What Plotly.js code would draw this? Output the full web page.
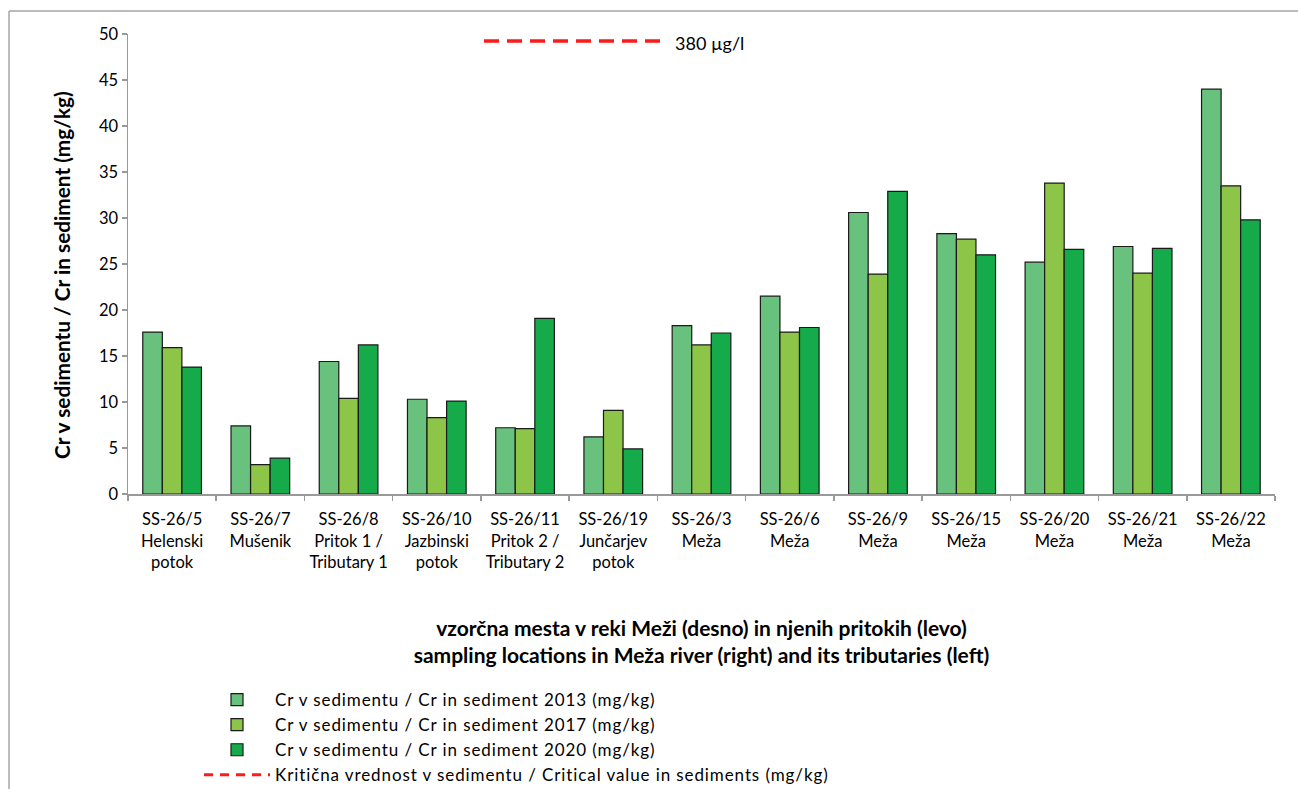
<!DOCTYPE html>
<html>
<head>
<meta charset="utf-8">
<script src="https://cdn.plot.ly/plotly-3.0.1.min.js"></script>
<style>html,body{margin:0;padding:0;background:#fff;overflow:hidden;}#chart{width:1298px;height:789px;}
text.legendtext{letter-spacing:0.9px;}</style>
</head>
<body>
<div id="chart"></div>
<script>
const categories = [
  "SS-26/5<br>Helenski<br>potok",
  "SS-26/7<br>Mušenik",
  "SS-26/8<br>Pritok 1 /<br>Tributary 1",
  "SS-26/10<br>Jazbinski<br>potok",
  "SS-26/11<br>Pritok 2 /<br>Tributary 2",
  "SS-26/19<br>Junčarjev<br>potok",
  "SS-26/3<br>Meža",
  "SS-26/6<br>Meža",
  "SS-26/9<br>Meža",
  "SS-26/15<br>Meža",
  "SS-26/20<br>Meža",
  "SS-26/21<br>Meža",
  "SS-26/22<br>Meža"
];
const cr2013 = [17.6, 7.4, 14.4, 10.3, 7.2, 6.2, 18.3, 21.5, 30.6, 28.3, 25.2, 26.9, 44.0];
const cr2017 = [15.9, 3.2, 10.4, 8.3, 7.1, 9.1, 16.2, 17.6, 23.9, 27.7, 33.8, 24.0, 33.5];
const cr2020 = [13.8, 3.9, 16.2, 10.1, 19.1, 4.9, 17.5, 18.1, 32.9, 26.0, 26.6, 26.7, 29.8];
const criticalValue = 380;
const seriesNames = [
  "Cr v sedimentu / Cr in sediment 2013 (mg/kg)",
  "Cr v sedimentu / Cr in sediment 2017 (mg/kg)",
  "Cr v sedimentu / Cr in sediment 2020 (mg/kg)",
  "Kritična vrednost v sedimentu / Critical value in sediments (mg/kg)"
];
const criticalLabel = "380 µg/l";
const xTitle = "<b>vzorčna mesta v reki Meži (desno) in njenih pritokih (levo)<br>sampling locations in Meža river (right) and its tributaries (left)</b>";
const yTitle = "<b>Cr v sedimentu / Cr in sediment (mg/kg)</b>";

const FONT = "Lato, 'Open Sans', sans-serif";
const colors = ["#68C17C", "#8DC548", "#15AB4A"];
const barLine = {color: "#1a1a1a", width: 1.2};

const traces = [cr2013, cr2017, cr2020].map((vals, i) => ({
  type: "bar",
  x: categories,
  y: vals,
  name: seriesNames[i],
  marker: {color: colors[i], line: barLine}
}));
traces.push({
  type: "scatter",
  mode: "lines",
  x: categories,
  y: categories.map(() => criticalValue),
  name: seriesNames[3],
  line: {color: "#FF1A1A", width: 3, dash: "9px,7px"}
});

const L = 128, R = 1275, T = 34, B = 494, W = 1298, H = 789;
const px = v => (v - L) / (R - L);
const py = v => (B - v) / (B - T);

const layout = {
  width: W, height: H,
  margin: {l: L, r: W - R, t: T, b: H - B, autoexpand: false},
  paper_bgcolor: "#fff", plot_bgcolor: "#fff",
  font: {family: FONT, size: 16, color: "#000"},
  barmode: "group",
  bargap: 0.335,
  bargroupgap: 0,
  showlegend: true,
  legend: {
    x: px(199), y: py(682), xanchor: "left", yanchor: "top",
    font: {family: FONT, size: 17, color: "#000"},
    bgcolor: "rgba(0,0,0,0)", tracegroupgap: 0, itemwidth: 66,
    traceorder: "normal"
  },
  xaxis: {
    type: "category",
    showline: true, linecolor: "#999", linewidth: 1.5,
    ticks: "outside", tickson: "boundaries", ticklen: 5, tickcolor: "#999", tickwidth: 1.5,
    tickfont: {family: FONT, size: 16.5, color: "#000"},
    ticklabelstandoff: 10,
    tickangle: 0,
    showgrid: false, zeroline: false, automargin: false,
    title: {text: xTitle, font: {family: FONT, size: 21, color: "#000"}, standoff: 50}
  },
  yaxis: {
    range: [0, 50], dtick: 5,
    showline: true, linecolor: "#999", linewidth: 1.5,
    ticks: "outside", ticklen: 5, tickcolor: "#999", tickwidth: 1.5,
    tickfont: {family: FONT, size: 16.5, color: "#000"},
    showgrid: false, zeroline: false, automargin: false
  },
  shapes: [
    {type: "line", xref: "paper", yref: "paper", x0: px(9), x1: px(1305), y0: py(11), y1: py(11), line: {color: "#a6a6a6", width: 1.5}},
    {type: "line", xref: "paper", yref: "paper", x0: px(9), x1: px(9), y0: py(11), y1: py(800), line: {color: "#a6a6a6", width: 1.5}},
    {type: "line", xref: "paper", yref: "paper", x0: px(484), x1: px(660), y0: py(41), y1: py(41), line: {color: "#FF1A1A", width: 3.5, dash: "15px,8px"}}
  ],
  annotations: [
    {xref: "paper", yref: "paper", x: px(673), y: py(43), xanchor: "left", yanchor: "middle", showarrow: false,
     text: criticalLabel, font: {family: FONT, size: 18, color: "#000"}},
    {xref: "paper", yref: "paper", x: px(61), y: py(275), xanchor: "center", yanchor: "middle", showarrow: false,
     textangle: -90, text: yTitle, font: {family: FONT, size: 20.8, color: "#000"}}
  ]
};

Plotly.newPlot("chart", traces, layout, {displayModeBar: false, staticPlot: true});
</script>
</body>
</html>
